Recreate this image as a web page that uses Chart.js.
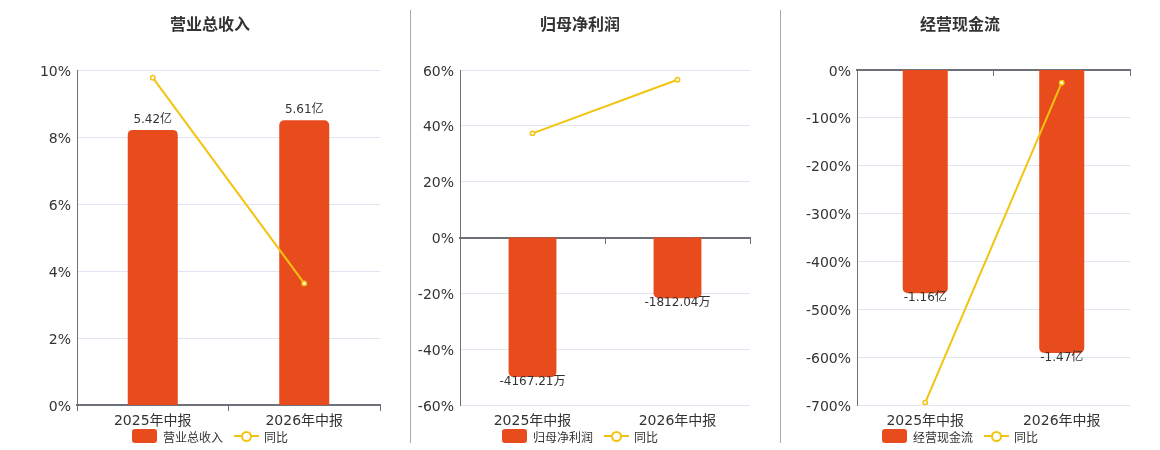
<!DOCTYPE html>
<html>
<head>
<meta charset="utf-8">
<script src="https://cdn.jsdelivr.net/npm/chart.js@4.4.1/dist/chart.umd.min.js"></script>
<style>
  body { margin: 0; background: #fff; font-family: "DejaVu Sans", "Noto Sans CJK SC", sans-serif; }
  #wrap { position: relative; width: 1160px; height: 450px; overflow: hidden; }
  canvas { position: absolute; top: 0; }
  .title { position: absolute; top: 12px; width: 200px; margin-left: -100px; text-align: center;
           font: bold 16px "Noto Sans CJK SC", sans-serif; color: #333; line-height: 22px; }
  .sep { position: absolute; top: 10px; height: 433px; width: 1px; background: #aaa; }
  .legend { position: absolute; top: 429px; width: 260px; margin-left: -130px; height: 14px;
            display: flex; justify-content: center; align-items: center;
            font: 12px "Noto Sans CJK SC", sans-serif; color: #333; }
  .legend .box { width: 25px; height: 14px; border-radius: 3px; background: #E84B1C; margin-right: 6px; }
  .legend .mark { position: relative; width: 25px; height: 14px; margin-left: 11px; margin-right: 5px; }
  .legend .mark:before { content: ""; position: absolute; left: 0; right: 0; top: 6px; height: 2px; background: #F2C40F; }
  .legend .mark:after { content: ""; position: absolute; left: 7px; top: 2px; width: 7px; height: 7px;
                        border: 2px solid #F2C40F; border-radius: 50%; background: #fff; }
</style>
</head>
<body>
<div id="wrap">
  <canvas id="c1" width="400" height="450" style="left:0px"></canvas>
  <canvas id="c2" width="360" height="450" style="left:400px"></canvas>
  <canvas id="c3" width="360" height="450" style="left:780px"></canvas>

  <div class="sep" style="left:410px"></div>
  <div class="sep" style="left:780px"></div>

  <div class="title" style="left:210px">营业总收入</div>
  <div class="title" style="left:580px">归母净利润</div>
  <div class="title" style="left:960px">经营现金流</div>

  <div class="legend" style="left:210px"><span class="box"></span>营业总收入<span class="mark"></span>同比</div>
  <div class="legend" style="left:580px"><span class="box"></span>归母净利润<span class="mark"></span>同比</div>
  <div class="legend" style="left:960px"><span class="box"></span>经营现金流<span class="mark"></span>同比</div>
</div>

<script>
// data
const periods = ['2025年中报', '2026年中报'];

const revenueValues = [5.42, 5.61];          // 亿
const revenueYoy = [9.77, 3.63];             // %
const profitValues = [-4167.21, -1812.04];   // 万
const profitYoy = [37.3, 56.5];
const cashValues = [-1.16, -1.47];           // 亿
const cashYoy = [-695, -26.5];

const barColor = '#E84B1C';
const lineColor = '#F2C40F';
const axisColor = '#6E7079';
const gridColor = '#E0E6F1';

Chart.defaults.font.family = '"DejaVu Sans", "Noto Sans CJK SC", sans-serif';

// draws the value text above (or below, for negatives) each bar
const valueLabelPlugin = {
    id: 'valueLabels',
    afterDatasetsDraw(chart, args, opts) {
        const meta = chart.getDatasetMeta(0);
        const values = chart.data.datasets[0].data;
        const ctx = chart.ctx;
        ctx.save();
        ctx.font = '12px "DejaVu Sans", "Noto Sans CJK SC", sans-serif';
        ctx.fillStyle = '#333';
        ctx.textAlign = 'center';
        ctx.textBaseline = 'middle';
        meta.data.forEach((bar, i) => {
            const y = values[i] >= 0 ? bar.y - 10 : bar.y + 5;
            ctx.fillText(opts.labels[i], bar.x, y);
        });
        ctx.restore();
    }
};

const makeChart = (id, o) => {
    return new Chart(document.getElementById(id), {
        type: 'bar',
        data: {
            labels: periods,
            datasets: [
                {
                    type: 'bar',
                    label: o.name,
                    data: o.values,
                    yAxisID: 'y1',
                    backgroundColor: barColor,
                    borderRadius: 5,
                    borderSkipped: 'start',
                    categoryPercentage: 0.33,
                    barPercentage: 1,
                    order: 1
                },
                {
                    type: 'line',
                    label: '同比',
                    data: o.yoy,
                    yAxisID: 'y',
                    borderColor: lineColor,
                    borderWidth: 2,
                    pointRadius: 2.2,
                    pointBorderWidth: 1.5,
                    pointBackgroundColor: '#fff',
                    pointBorderColor: lineColor,
                    order: 0
                }
            ]
        },
        options: {
            responsive: false,
            animation: false,
            events: [],
            layout: { padding: { top: 70, right: o.padRight, left: 0, bottom: 0 } },
            plugins: {
                legend: { display: false },
                tooltip: { enabled: false },
                valueLabels: { labels: o.labels }
            },
            scales: {
                x: {
                    offset: true,
                    border: { display: false },
                    grid: { display: false, drawTicks: false },
                    ticks: { color: '#333', font: { size: 14 }, padding: 8, maxRotation: 0 },
                    afterFit(s) { s.height = 45; }
                },
                // axis line sitting on the zero value, with the small category ticks
                x2: {
                    type: 'category',
                    position: { y: 0 },
                    offset: true,
                    border: { display: true, color: axisColor, width: 2 },
                    grid: { display: true, drawOnChartArea: false, offset: true, color: axisColor, tickLength: 5 },
                    ticks: { display: false }
                },
                y: {
                    min: o.yMin,
                    max: o.yMax,
                    ticks: { stepSize: o.step, color: '#333', font: { size: 14 }, padding: 6, labelOffset: 2, callback: v => v + '%' },
                    grid: { color: gridColor, drawTicks: false },
                    border: { color: axisColor },
                    afterFit(s) { s.width = o.axisWidth; }
                },
                y1: { display: false, min: o.barMin, max: o.barMax }
            }
        },
        plugins: [valueLabelPlugin]
    });
};

makeChart('c1', {
    name: '营业总收入', values: revenueValues, yoy: revenueYoy,
    labels: revenueValues.map(v => v.toFixed(2) + '亿'),
    yMin: 0, yMax: 10, step: 2, barMin: 0, barMax: 6.6,
    axisWidth: 77, padRight: 20
});

makeChart('c2', {
    name: '归母净利润', values: profitValues, yoy: profitYoy,
    labels: profitValues.map(v => v.toFixed(2) + '万'),
    yMin: -60, yMax: 60, step: 20, barMin: -5000, barMax: 5000,
    axisWidth: 60, padRight: 10
});

makeChart('c3', {
    name: '经营现金流', values: cashValues, yoy: cashYoy,
    labels: cashValues.map(v => v.toFixed(2) + '亿'),
    yMin: -700, yMax: 0, step: 100, barMin: -1.74, barMax: 0,
    axisWidth: 77, padRight: 10
});
</script>
</body>
</html>
